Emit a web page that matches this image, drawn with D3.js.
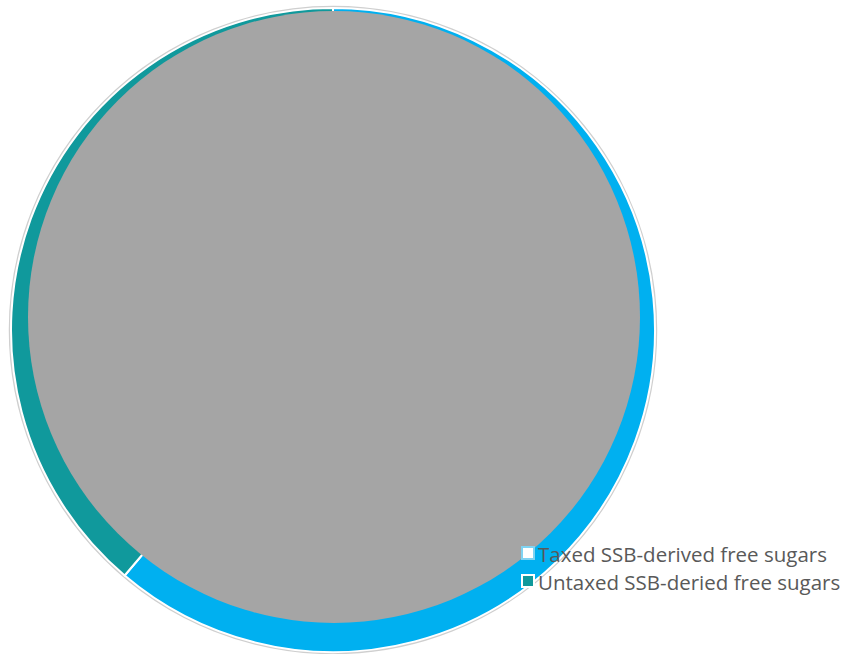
<!DOCTYPE html>
<html>
<head>
<meta charset="utf-8">
<script src="https://cdn.jsdelivr.net/npm/d3@7"></script>
<style>
  body { margin: 0; background: #fff; }
  svg { display: block; }
</style>
</head>
<body>
<svg id="chart" width="848" height="654"></svg>
<script>
// data
var categories = ["Taxed SSB-derived free sugars", "Untaxed SSB-deried free sugars"];
var values = [61.2, 38.8];
var colors = ["#00B0F0", "#10999C"];
var legendFill = ["#ffffff", "#10999C"];
var legendStroke = ["#7fd3f2", "#ffffff"];

var svg = d3.select("#chart");
var cx = 333, cy = 330, r = 322;

var pie = d3.pie().sort(null).value(function(d) { return d; });
var arc = d3.arc().innerRadius(0).outerRadius(r);

var g = svg.append("g").attr("transform", "translate(" + cx + "," + cy + ")");

// faint outer rim
g.append("circle")
    .attr("r", r + 1)
    .attr("fill", "none")
    .attr("stroke", "#cfcfcf")
    .attr("stroke-width", 2.5);

g.selectAll("path.slice")
    .data(pie(values))
    .enter().append("path")
    .attr("class", "slice")
    .attr("d", arc)
    .attr("fill", function(d, i) { return colors[i]; })
    .attr("stroke", "#ffffff")
    .attr("stroke-width", 2);

// grey disc sitting on top
svg.append("circle")
    .attr("cx", 334)
    .attr("cy", 317)
    .attr("r", 306)
    .attr("fill", "#A5A5A5");

// legend
var legend = svg.append("g").attr("transform", "translate(521,546)");
var items = legend.selectAll("g")
    .data(categories)
    .enter().append("g")
    .attr("transform", function(d, i) { return "translate(0," + (i * 28) + ")"; });

items.append("rect")
    .attr("x", 1).attr("y", 1)
    .attr("width", 12).attr("height", 12)
    .attr("fill", function(d, i) { return legendFill[i]; })
    .attr("stroke", function(d, i) { return legendStroke[i]; })
    .attr("stroke-width", 2);

items.append("text")
    .attr("x", 17)
    .attr("y", 16)
    .attr("font-family", "Open Sans, sans-serif")
    .attr("font-size", 20.5)
    .attr("fill", "#595959")
    .text(function(d) { return d; });
</script>
</body>
</html>
